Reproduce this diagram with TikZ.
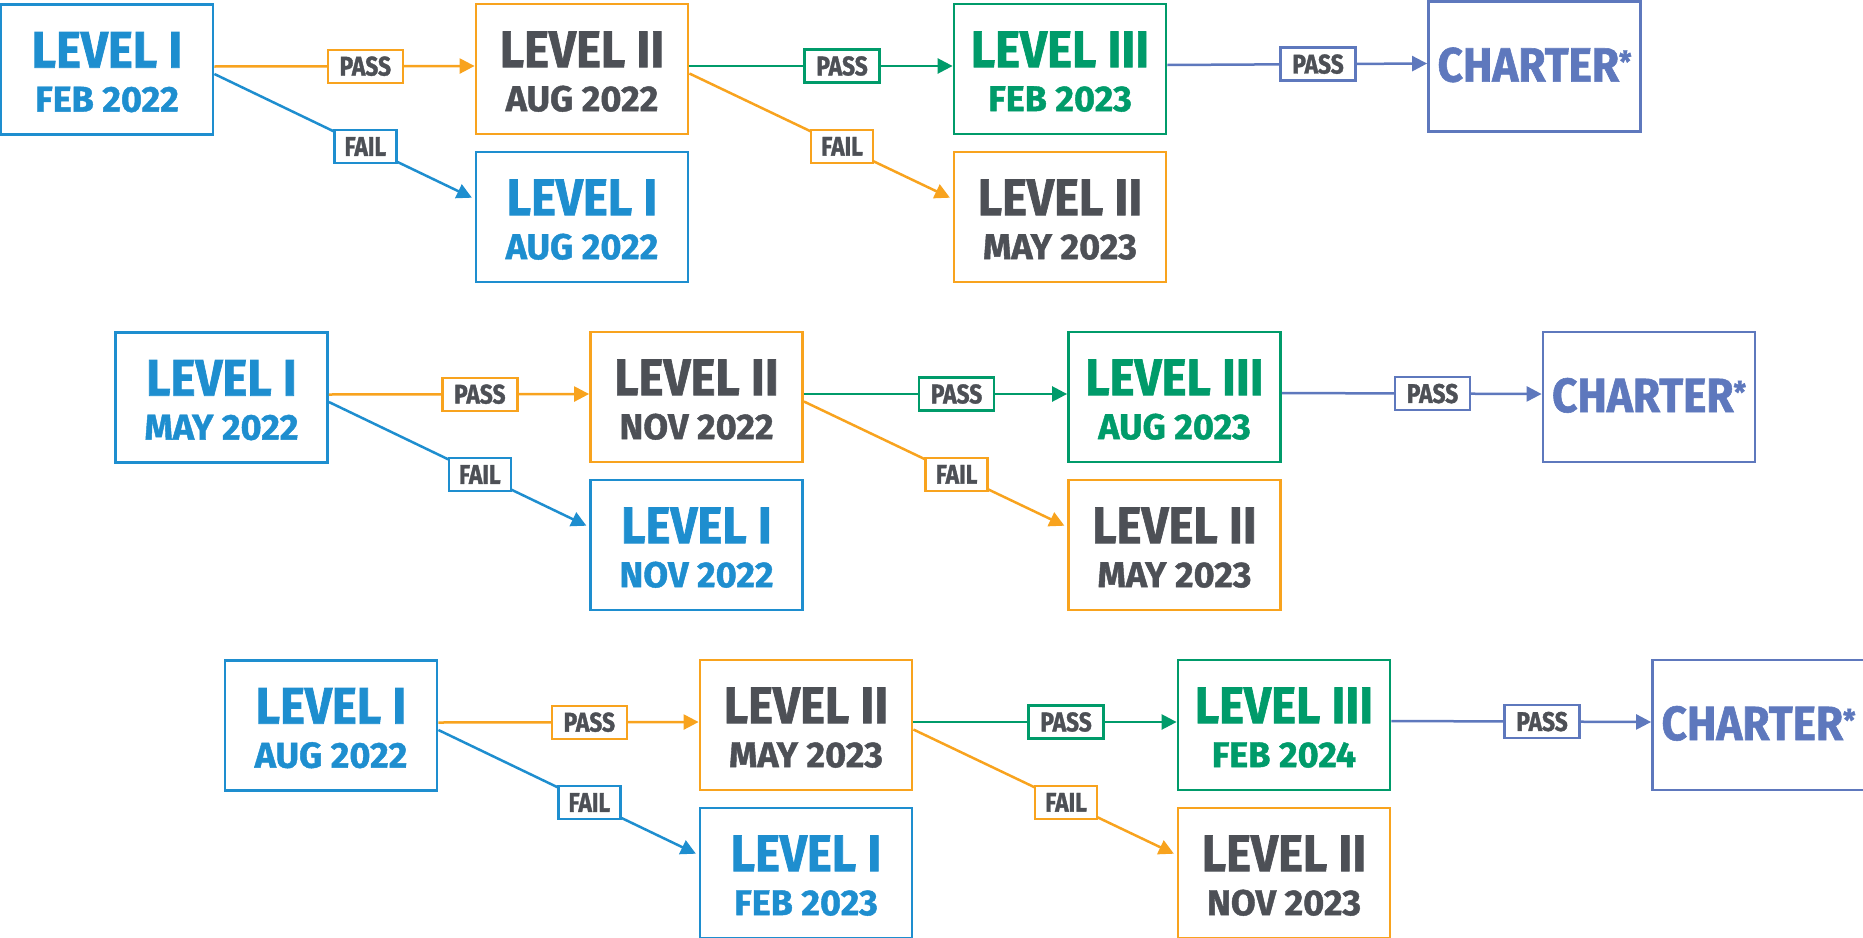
\documentclass[tikz,border=0pt]{standalone}
\usepackage{fontspec}
\newfontfamily\cfa{Fira Sans}[BoldFeatures={FakeStretch=0.92,FakeBold=1.2}]
\newfontfamily\cfd{Fira Sans}[BoldFeatures={FakeStretch=1.0,FakeBold=1.2}]
\newfontfamily\cfl{Fira Sans}[BoldFeatures={FakeStretch=0.84,FakeBold=1.3}]
\usetikzlibrary{arrows.meta}
\definecolor{cblue}{RGB}{30,142,207}
\definecolor{corange}{RGB}{248,163,30}
\definecolor{cgreen}{RGB}{0,155,106}
\definecolor{cpurple}{RGB}{94,120,189}
\definecolor{cgray}{RGB}{77,80,86}
\newcommand\lv[1]{{\cfa\bfseries\fontsize{51.5}{44}\selectfont\rule{0pt}{41pt}#1}}
\newcommand\chtext[1]{{\cfa\bfseries\fontsize{48}{44}\selectfont #1}}
\tikzset{
  box/.style={draw, line width=2.8pt, minimum width=212pt, minimum height=130pt,
    inner sep=0pt, align=center, font=\cfd\bfseries\fontsize{36}{44}\selectfont},
  lbox/.style={box, draw=cblue, text=cblue},
  iibox/.style={box, draw=corange, text=cgray},
  iiibox/.style={box, draw=cgreen, text=cgreen},
  chbox/.style={box, draw=cpurple, text=cpurple},
  conn/.style={line width=2.5pt, -{Triangle[length=15pt,width=15pt]}},
  tag/.style={draw, fill=white, line width=2.4pt, text=cgray, inner sep=0pt,
    minimum height=33pt, font=\cfl\bfseries\fontsize{27}{27}\selectfont, pos=0.58},
  passtag/.style={tag, minimum width=75pt},
  failtag/.style={tag, minimum width=62pt},
}
% #1 suffix, #2 #3 shift, #4..#8 dates (A,B,C,E,F), #9 charter y
\newcommand\flowrow[9]{%
\begin{scope}[shift={(#2,#3)}]
  \node[lbox]   (A#1) at (107,69.5) {\lv{LEVEL I}\\#4};
  \node[iibox]  (B#1) at (582,69)   {\lv{LEVEL II}\\#5};
  \node[iiibox] (C#1) at (1060,69)  {\lv{LEVEL III}\\#6};
  \node[chbox]  (D#1) at (1534.5,#9) {\raisebox{4pt}{\chtext{CHARTER{\fontsize{30}{30}\selectfont\raisebox{9pt}{*}}}}};
  \node[lbox]   (E#1) at (582,217)  {\lv{LEVEL I}\\#7};
  \node[iibox]  (F#1) at (1060,217) {\lv{LEVEL II}\\#8};
  \draw[conn, corange] ([yshift=3pt]A#1.east) -- node[passtag, draw=corange] (pa#1) {PASS} ([yshift=3pt]B#1.west);
  \draw[conn, cblue, shorten >=3pt] ([yshift=-4.5pt]A#1.east) -- node[failtag, draw=cblue] (fa#1) {FAIL} ([yshift=18pt]E#1.west);
  \draw[conn, cgreen] ([yshift=3pt]B#1.east) -- node[passtag, draw=cgreen] (pb#1) {PASS} ([yshift=3pt]C#1.west);
  \draw[conn, corange, shorten >=3pt] ([yshift=-4.5pt]B#1.east) -- node[failtag, draw=corange] (fb#1) {FAIL} ([yshift=18pt]F#1.west);
  \draw[conn, cpurple] ([yshift=4pt]C#1.east) -- node[passtag, draw=cpurple] (pc#1) {PASS} ([yshift=3pt]D#1.west);
\end{scope}}
\begin{document}
\begin{tikzpicture}[x=1pt, y=-1pt]
  \useasboundingbox (0,0) rectangle (1863,937);
  \clip (0,0) rectangle (1863,937);
  \flowrow{1}{0}{0}{FEB 2022}{AUG 2022}{FEB 2023}{AUG 2022}{MAY 2023}{66.5}
  \flowrow{2}{114.5}{328}{MAY 2022}{NOV 2022}{AUG 2023}{NOV 2022}{MAY 2023}{69}
  \flowrow{3}{224}{656}{AUG 2022}{MAY 2023}{FEB 2024}{FEB 2023}{NOV 2023}{69}
\end{tikzpicture}
\end{document}
